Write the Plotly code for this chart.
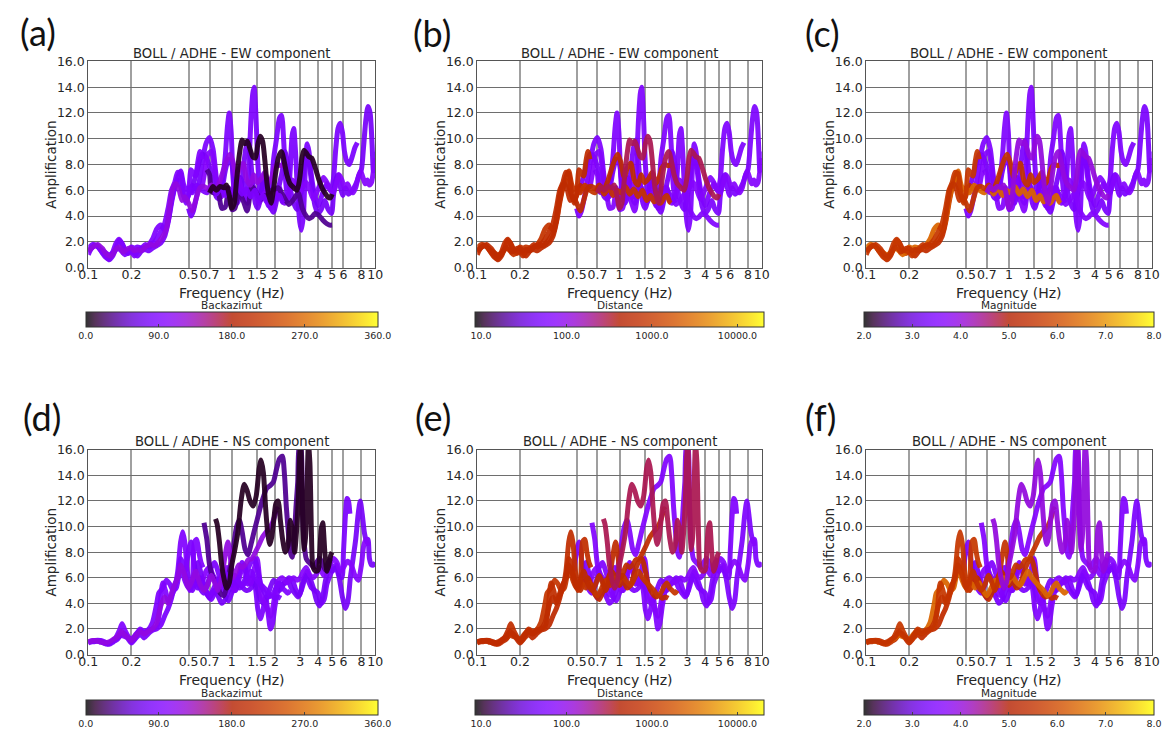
import math
import plotly.graph_objects as go

# ---------------- data ----------------
X_TICKS = [0.1, 0.2, 0.5, 0.7, 1, 1.5, 2, 3, 4, 5, 6, 8, 10]
X_TICK_LABELS = ['0.1', '0.2', '0.5', '0.7', '1', '1.5', '2', '3', '4', '5', '6', '8', '10']
Y_TICKS = [0, 2, 4, 6, 8, 10, 12, 14, 16]
Y_TICK_LABELS = ['0.0', '2.0', '4.0', '6.0', '8.0', '10.0', '12.0', '14.0', '16.0']

BAZ_TICKS = [0, 90, 180, 270, 360]
BAZ_TICK_LABELS = ['0.0', '90.0', '180.0', '270.0', '360.0']
DIST_TICKS = [10, 100, 1000, 10000]
DIST_TICK_LABELS = ['10.0', '100.0', '1000.0', '10000.0']
MAG_TICKS = [2, 3, 4, 5, 6, 7, 8]
MAG_TICK_LABELS = ['2.0', '3.0', '4.0', '5.0', '6.0', '7.0', '8.0']

# events (drawing order)
event_names = ['H1', 'H2', 'H3', 'H5', 'L4', 'L3', 'L1', 'L2', 'H4']
event_backazimuth = [85, 78, 98, 35, 85, 88, 92, 118, 8]
event_distance = [60, 55, 70, 65, 600, 850, 700, 650, 280]
event_magnitude = [3.5, 3.4, 3.6, 3.6, 5.4, 6.4, 5.6, 5.5, 4.0]

# ---- EW component ----
ew_L1_freq = [0.100, 0.104, 0.110, 0.117, 0.124, 0.132, 0.140, 0.148, 0.156, 0.164, 0.172, 0.180, 0.190, 0.200, 0.210, 0.222, 0.235, 0.250, 0.265, 0.280, 0.300, 0.320, 0.340, 0.360, 0.380, 0.400, 0.420, 0.440, 0.460, 0.480, 0.500, 0.520, 0.540, 0.560, 0.580, 0.600, 0.620]
ew_L1_amp = [1.0, 1.4, 1.7, 1.6, 1.2, 0.8, 0.7, 1.2, 1.9, 2.2, 1.8, 1.4, 1.3, 1.2, 0.9, 1.3, 1.5, 1.8, 1.6, 1.8, 2.2, 2.8, 3.4, 4.6, 6.0, 6.6, 7.4, 7.3, 5.8, 5.0, 5.8, 7.6, 7.3, 7.1, 8.2, 9.0, 8.4]

ew_L2_freq = [0.100, 0.108, 0.116, 0.125, 0.135, 0.145, 0.155, 0.165, 0.175, 0.190, 0.200, 0.210, 0.220, 0.235, 0.250, 0.270, 0.290, 0.310, 0.330, 0.350, 0.370, 0.390, 0.410, 0.430, 0.450, 0.470, 0.500, 0.530, 0.560, 0.600, 0.640, 0.680, 0.720, 0.770, 0.820, 0.870, 0.920, 0.970, 1.02, 1.08, 1.14, 1.20, 1.27, 1.35, 1.42, 1.50, 1.60, 1.70, 1.80, 1.90, 2.00, 2.10, 2.20, 2.30]
ew_L2_amp = [1.3, 1.6, 1.8, 1.5, 1.0, 0.9, 1.4, 1.6, 1.2, 1.5, 1.5, 1.3, 1.4, 1.3, 1.6, 1.8, 1.7, 2.0, 2.4, 3.0, 4.8, 6.2, 6.5, 6.0, 5.2, 5.5, 5.0, 4.4, 5.2, 6.2, 6.3, 6.1, 6.4, 6.0, 6.6, 7.5, 8.3, 8.8, 8.2, 7.0, 7.8, 8.1, 6.8, 6.4, 7.2, 6.6, 6.9, 7.4, 6.5, 7.0, 7.8, 8.0, 7.9, 8.0]

ew_L3_freq = [0.100, 0.107, 0.114, 0.122, 0.130, 0.140, 0.150, 0.160, 0.170, 0.180, 0.190, 0.200, 0.210, 0.220, 0.240, 0.260, 0.280, 0.300, 0.320, 0.340, 0.360, 0.380, 0.400, 0.420, 0.440, 0.460, 0.480, 0.500, 0.530, 0.570, 0.620, 0.670, 0.720, 0.780, 0.840, 0.900, 0.960, 1.02, 1.10, 1.18, 1.26, 1.35, 1.45, 1.55, 1.65, 1.75, 1.85, 1.95, 2.05, 2.15, 2.25, 2.30]
ew_L3_amp = [1.5, 1.8, 1.7, 1.4, 1.2, 1.0, 1.2, 1.5, 1.3, 1.0, 1.2, 1.6, 1.5, 1.6, 1.5, 1.7, 2.2, 3.0, 3.3, 2.9, 3.6, 5.2, 6.2, 7.0, 7.5, 6.5, 6.0, 6.2, 5.8, 6.4, 6.0, 5.8, 6.3, 5.7, 6.2, 5.6, 6.0, 5.8, 6.3, 5.7, 6.1, 5.5, 6.0, 5.2, 5.6, 5.1, 5.5, 5.0, 5.4, 5.6, 5.1, 5.0]

ew_L4_freq = [0.100, 0.107, 0.115, 0.123, 0.132, 0.140, 0.148, 0.156, 0.164, 0.172, 0.180, 0.190, 0.200, 0.210, 0.220, 0.235, 0.250, 0.265, 0.280, 0.300, 0.320, 0.340, 0.360, 0.380, 0.400, 0.420, 0.440, 0.460, 0.480, 0.500, 0.530, 0.560]
ew_L4_amp = [1.2, 1.6, 1.7, 1.3, 0.9, 0.6, 0.9, 1.5, 2.1, 1.9, 1.4, 1.1, 1.3, 1.1, 0.9, 1.3, 1.4, 1.3, 1.5, 1.7, 1.9, 2.4, 3.5, 5.0, 6.2, 6.8, 6.3, 5.6, 5.2, 5.6, 6.4, 6.0]

ew_H1_freq = [0.50, 0.52, 0.54, 0.57, 0.60, 0.63, 0.66, 0.70, 0.74, 0.78, 0.82, 0.86, 0.90, 0.93, 0.96, 0.99, 1.02, 1.06, 1.10, 1.15, 1.20, 1.26, 1.31, 1.36, 1.40, 1.43, 1.47, 1.52, 1.58, 1.65, 1.72, 1.80, 1.88, 1.96, 2.05, 2.15, 2.22, 2.30, 2.38, 2.46, 2.55, 2.63, 2.70, 2.78, 2.88, 2.98, 3.05, 3.15, 3.25, 3.35, 3.45, 3.60, 3.80, 4.00, 4.30, 4.60, 4.90, 5.10, 5.30, 5.50, 5.70, 5.90, 6.10, 6.35, 6.60, 6.90, 7.20, 7.50]
ew_H1_amp = [4.6, 4.0, 4.4, 5.6, 7.0, 8.5, 9.6, 10.1, 9.2, 7.0, 5.8, 6.8, 8.6, 10.8, 12.0, 10.5, 7.0, 5.2, 5.8, 7.0, 6.5, 5.5, 7.5, 11.5, 13.5, 14.0, 12.0, 8.0, 5.8, 6.8, 5.6, 4.8, 6.0, 8.5, 10.0, 11.6, 11.8, 9.8, 6.5, 5.2, 7.5, 10.2, 10.8, 9.0, 5.5, 3.5, 2.9, 4.0, 7.5, 9.6, 9.0, 7.0, 5.5, 4.8, 5.8, 6.5, 6.0, 6.8, 9.2, 10.8, 11.2, 10.5, 9.0, 8.2, 8.0, 8.6, 9.3, 9.7]

ew_H2_freq = [0.52, 0.55, 0.58, 0.62, 0.66, 0.70, 0.74, 0.78, 0.82, 0.86, 0.90, 0.95, 1.00, 1.05, 1.10, 1.15, 1.20, 1.25, 1.30, 1.35, 1.40, 1.46, 1.52, 1.60, 1.68, 1.76, 1.85, 1.95, 2.05, 2.15, 2.25, 2.35, 2.45, 2.55, 2.70, 2.85, 3.00, 3.15, 3.30, 3.45, 3.60, 3.80, 4.00, 4.20, 4.45, 4.70, 4.95, 5.10, 5.30, 5.50, 5.70, 5.95, 6.20, 6.50, 6.80, 7.10, 7.40, 7.70, 8.00, 8.30, 8.60, 8.90, 9.20, 9.50, 9.70, 9.85, 10.0]
ew_H2_amp = [5.8, 6.8, 7.8, 8.8, 8.6, 7.8, 6.5, 5.5, 5.3, 6.2, 7.5, 8.4, 8.0, 6.2, 5.0, 5.8, 7.5, 9.2, 9.9, 8.5, 6.5, 5.0, 4.6, 5.8, 7.2, 6.2, 4.8, 4.3, 5.2, 6.5, 7.5, 9.0, 8.0, 6.2, 5.0, 4.5, 5.5, 7.2, 8.8, 8.2, 6.5, 4.8, 4.2, 4.5, 5.2, 4.5, 4.2, 5.5, 6.8, 7.2, 6.3, 5.6, 6.2, 5.7, 5.9, 6.2, 6.6, 7.2, 7.6, 9.5, 11.5, 12.5, 12.0, 9.5, 7.5, 7.8, 9.0]

ew_H3_freq = [0.62, 0.65, 0.68, 0.72, 0.76, 0.80, 0.85, 0.90, 0.95, 1.00, 1.05, 1.10, 1.16, 1.22, 1.28, 1.34, 1.40, 1.47, 1.55, 1.62, 1.70, 1.78, 1.86, 1.95, 2.05, 2.15, 2.25, 2.35, 2.50, 2.65, 2.80, 2.95, 3.10, 3.30, 3.50, 3.70, 3.90, 4.10, 4.35, 4.60, 4.85, 5.10, 5.35, 5.60, 5.85, 6.10, 6.40, 6.70, 7.00, 7.30, 7.60, 7.90, 8.20, 8.50, 8.80, 9.10, 9.40, 9.70, 10.0]
ew_H3_amp = [6.2, 7.5, 8.8, 9.0, 7.5, 6.0, 5.5, 6.2, 5.6, 5.4, 6.5, 7.0, 6.2, 5.5, 5.0, 5.8, 6.4, 5.8, 5.0, 5.4, 5.8, 5.3, 4.6, 4.8, 5.8, 6.2, 5.2, 5.0, 5.8, 6.8, 6.2, 5.8, 6.2, 6.6, 6.0, 5.3, 5.8, 6.4, 7.0, 6.6, 6.0, 5.8, 6.5, 7.2, 6.8, 6.2, 6.5, 6.0, 5.8, 6.2, 7.0, 7.5, 7.0, 6.5, 6.8, 6.4, 6.6, 7.5, 8.5]

ew_H4_freq = [0.70, 0.74, 0.78, 0.83, 0.88, 0.92, 0.96, 1.00, 1.04, 1.08, 1.13, 1.18, 1.23, 1.28, 1.34, 1.40, 1.46, 1.52, 1.58, 1.64, 1.70, 1.76, 1.82, 1.88, 1.95, 2.03, 2.12, 2.22, 2.32, 2.42, 2.55, 2.70, 2.85, 2.98, 3.08, 3.18, 3.30, 3.45, 3.60, 3.75, 3.90, 4.05, 4.25, 4.45, 4.65, 4.85, 5.00]
ew_H4_amp = [5.8, 6.3, 6.0, 6.3, 6.2, 6.4, 5.6, 4.6, 5.0, 6.8, 8.8, 9.9, 9.6, 9.8, 9.2, 8.6, 8.5, 9.6, 10.2, 9.8, 8.3, 6.5, 5.5, 5.0, 6.0, 7.5, 8.6, 9.0, 8.2, 7.2, 6.5, 6.2, 6.0, 7.0, 8.5, 9.1, 8.9, 8.6, 8.5, 8.0, 7.4, 6.8, 6.2, 5.8, 5.5, 5.4, 5.7]

ew_H5_freq = [0.67, 0.70, 0.72, 0.76, 0.80, 0.85, 0.90, 0.95, 1.00, 1.05, 1.12, 1.20, 1.28, 1.38, 1.50, 1.60, 1.70, 1.80, 1.90, 2.00, 2.10, 2.30, 2.50, 2.70, 2.90, 3.10, 3.30, 3.45, 3.60, 3.80, 4.00, 4.30, 4.60, 4.80, 5.00]
ew_H5_amp = [7.6, 7.2, 5.9, 5.8, 6.0, 4.6, 4.7, 6.2, 4.5, 4.6, 5.8, 5.2, 4.4, 6.3, 5.7, 5.3, 5.6, 5.2, 6.0, 6.1, 6.2, 5.5, 4.9, 5.3, 5.8, 4.6, 4.0, 3.8, 3.9, 4.2, 4.1, 3.7, 3.4, 3.3, 3.3]

# ---- NS component ----
ns_L1_freq = [0.100, 0.105, 0.112, 0.120, 0.128, 0.136, 0.145, 0.155, 0.165, 0.172, 0.180, 0.190, 0.200, 0.210, 0.220, 0.230, 0.245, 0.260, 0.280, 0.300, 0.315, 0.330, 0.345, 0.360, 0.380, 0.400, 0.420, 0.440, 0.455, 0.470, 0.490, 0.510, 0.530, 0.550, 0.570, 0.590, 0.610, 0.630]
ns_L1_amp = [0.9, 1.0, 1.1, 1.1, 0.9, 0.8, 1.0, 1.3, 1.9, 2.4, 1.9, 1.4, 1.0, 1.2, 1.7, 2.0, 1.8, 1.9, 2.0, 2.2, 3.5, 5.6, 5.0, 4.2, 4.6, 5.2, 6.5, 8.8, 9.6, 8.8, 6.5, 5.0, 5.5, 8.8, 9.0, 8.0, 7.2, 6.8]

ns_L2_freq = [0.100, 0.110, 0.120, 0.130, 0.140, 0.150, 0.160, 0.170, 0.180, 0.190, 0.200, 0.215, 0.230, 0.245, 0.260, 0.280, 0.300, 0.320, 0.340, 0.360, 0.380, 0.400, 0.420, 0.440, 0.460, 0.480, 0.500, 0.530, 0.560, 0.600, 0.640, 0.680, 0.720, 0.760, 0.800, 0.850, 0.900, 0.940, 0.980, 1.02, 1.07, 1.12, 1.18, 1.24, 1.30, 1.38, 1.46, 1.55, 1.64, 1.74, 1.84, 1.92, 2.00, 2.06, 2.10]
ns_L2_amp = [1.0, 1.1, 1.0, 0.9, 1.0, 1.2, 1.4, 1.8, 1.5, 1.3, 1.1, 1.5, 1.8, 1.6, 1.8, 2.0, 2.5, 3.8, 4.5, 4.0, 4.8, 5.5, 6.0, 7.0, 6.5, 5.8, 5.2, 5.8, 6.5, 5.5, 5.0, 5.5, 6.2, 5.6, 5.0, 6.0, 7.8, 8.8, 7.5, 6.0, 6.5, 7.0, 6.8, 7.0, 7.4, 7.5, 8.0, 8.6, 9.2, 9.6, 9.9, 10.3, 10.9, 11.4, 11.3]

ns_L3_freq = [0.100, 0.110, 0.120, 0.130, 0.140, 0.150, 0.160, 0.170, 0.180, 0.190, 0.200, 0.215, 0.230, 0.245, 0.260, 0.280, 0.300, 0.310, 0.330, 0.350, 0.370, 0.390, 0.410, 0.430, 0.450, 0.470, 0.500, 0.540, 0.580, 0.620, 0.660, 0.700, 0.750, 0.800, 0.860, 0.920, 0.980, 1.05, 1.12, 1.20, 1.28, 1.36, 1.45, 1.55, 1.65, 1.75, 1.85, 1.95, 2.05, 2.15, 2.25, 2.35, 2.45, 2.55]
ns_L3_amp = [1.0, 1.1, 1.0, 0.9, 0.9, 1.1, 1.3, 1.5, 1.4, 1.3, 1.2, 1.6, 1.9, 1.7, 1.9, 2.5, 4.0, 4.8, 5.2, 5.8, 5.5, 5.0, 5.2, 6.2, 6.5, 5.8, 5.2, 5.6, 5.2, 5.6, 5.0, 4.6, 5.2, 5.8, 5.4, 6.0, 5.6, 6.2, 5.7, 5.4, 6.0, 6.5, 6.0, 5.6, 5.3, 5.0, 4.6, 4.8, 5.3, 5.6, 5.2, 5.0, 4.8, 5.0]

ns_L4_freq = [0.100, 0.110, 0.120, 0.130, 0.140, 0.150, 0.160, 0.170, 0.180, 0.190, 0.200, 0.215, 0.230, 0.245, 0.260, 0.280, 0.300, 0.320, 0.340, 0.360, 0.380, 0.400, 0.420, 0.440, 0.460, 0.480, 0.500, 0.530, 0.560, 0.600, 0.640, 0.680, 0.720, 0.770, 0.820, 0.880, 0.940, 1.00, 1.06, 1.13, 1.20, 1.28, 1.36, 1.44, 1.52, 1.60, 1.70, 1.80, 1.90, 2.00, 2.10, 2.20]
ns_L4_amp = [1.0, 1.0, 1.1, 1.0, 0.8, 1.0, 1.2, 1.6, 1.6, 1.2, 0.9, 1.3, 1.6, 1.3, 1.6, 1.9, 2.0, 2.3, 3.0, 3.6, 4.4, 5.4, 6.0, 7.5, 7.0, 6.0, 5.4, 5.0, 5.6, 6.0, 5.2, 4.6, 4.3, 5.0, 5.8, 6.5, 6.0, 5.4, 5.8, 5.2, 5.5, 6.5, 7.2, 7.5, 6.5, 5.4, 4.8, 4.5, 4.6, 4.4, 4.5, 4.4]

ns_H1_freq = [0.48, 0.50, 0.52, 0.54, 0.57, 0.60, 0.64, 0.68, 0.72, 0.76, 0.80, 0.85, 0.90, 0.95, 1.00, 1.06, 1.12, 1.18, 1.24, 1.30, 1.38, 1.46, 1.52, 1.58, 1.65, 1.72, 1.80, 1.86, 1.92, 2.00, 2.10, 2.20, 2.35, 2.50, 2.65, 2.80, 2.95, 3.10, 3.25, 3.40, 3.60, 3.80, 4.00, 4.20, 4.40, 4.60, 4.85, 5.10, 5.35, 5.60, 5.85, 6.00, 6.20, 6.35, 6.50, 6.65]
ns_H1_amp = [6.5, 8.2, 8.8, 7.5, 6.0, 5.2, 4.8, 5.5, 6.8, 7.2, 6.5, 5.5, 4.6, 4.2, 4.8, 5.5, 6.2, 7.2, 6.5, 5.5, 6.0, 5.2, 3.5, 2.8, 3.5, 4.5, 3.0, 2.0, 2.4, 3.8, 5.0, 5.5, 5.6, 6.0, 5.8, 5.0, 4.6, 5.5, 6.2, 5.8, 5.2, 5.0, 4.8, 4.0, 4.3, 5.5, 6.2, 6.8, 7.0, 6.2, 6.0, 8.0, 11.0, 12.2, 12.0, 11.0]

ns_H2_freq = [0.55, 0.58, 0.62, 0.66, 0.70, 0.75, 0.80, 0.85, 0.90, 0.95, 1.00, 1.06, 1.12, 1.20, 1.28, 1.36, 1.44, 1.52, 1.60, 1.68, 1.76, 1.85, 1.95, 2.05, 2.15, 2.30, 2.45, 2.60, 2.75, 2.90, 3.05, 3.20, 3.35, 3.50, 3.70, 3.90, 4.10, 4.30, 4.50, 4.75, 5.00, 5.30, 5.60, 5.90, 6.20, 6.45, 6.70, 7.00, 7.30, 7.60, 7.85, 8.10, 8.40, 8.70, 8.90, 9.10, 9.40, 9.70, 10.0]
ns_H2_amp = [6.0, 7.2, 6.0, 5.0, 4.4, 5.0, 4.6, 4.0, 4.3, 5.0, 5.2, 5.0, 5.6, 5.2, 5.0, 5.2, 5.8, 5.0, 4.2, 4.0, 4.5, 5.2, 5.8, 5.6, 5.0, 5.5, 5.8, 5.2, 4.8, 4.5, 5.0, 5.8, 6.5, 6.0, 5.2, 4.2, 3.8, 4.5, 5.8, 6.8, 6.5, 6.8, 6.0, 4.5, 3.6, 4.2, 6.0, 7.5, 9.0, 11.0, 12.0, 11.0, 9.5, 8.8, 9.0, 7.5, 7.0, 7.0, 7.2]

ns_H3_freq = [0.62, 0.66, 0.70, 0.74, 0.78, 0.83, 0.88, 0.93, 0.98, 1.04, 1.10, 1.16, 1.22, 1.28, 1.35, 1.42, 1.50, 1.56, 1.62, 1.70, 1.78, 1.86, 1.94, 2.02, 2.12, 2.25, 2.40, 2.55, 2.70, 2.85, 3.00, 3.15, 3.30, 3.50, 3.70, 3.90, 4.10, 4.35, 4.60, 4.85, 5.10, 5.40, 5.70, 6.00, 6.40, 6.80, 7.20, 7.60, 8.00, 8.30, 8.60, 8.90]
ns_H3_amp = [5.5, 6.5, 6.8, 6.2, 5.8, 5.2, 5.8, 6.8, 6.2, 5.0, 5.5, 6.5, 7.0, 6.2, 5.5, 6.5, 7.5, 6.0, 4.5, 4.0, 3.5, 3.0, 3.8, 5.0, 5.8, 6.0, 5.6, 5.8, 6.0, 5.8, 6.0, 6.5, 6.8, 6.2, 6.0, 6.3, 6.8, 6.2, 6.5, 7.0, 7.5, 7.2, 6.5, 6.8, 7.3, 7.0, 6.2, 5.8, 7.0, 8.5, 9.0, 8.5]

ns_H4_freq = [0.77, 0.79, 0.82, 0.85, 0.88, 0.92, 0.96, 1.00, 1.05, 1.10, 1.16, 1.22, 1.28, 1.34, 1.41, 1.48, 1.55, 1.60, 1.66, 1.72, 1.78, 1.84, 1.90, 1.96, 2.03, 2.10, 2.18, 2.26, 2.36, 2.46, 2.56, 2.66, 2.74, 2.82, 2.90, 2.97, 3.02, 3.08, 3.14, 3.20, 3.28, 3.36, 3.42, 3.50, 3.58, 3.66, 3.76, 3.88, 4.00, 4.10, 4.20, 4.30, 4.45, 4.60, 4.75, 4.90, 5.00]
ns_H4_amp = [10.6, 10.2, 8.8, 7.0, 6.0, 5.2, 5.6, 7.0, 8.2, 9.5, 12.0, 13.3, 12.8, 12.0, 11.6, 12.4, 14.5, 15.2, 14.2, 11.5, 9.5, 8.6, 9.2, 10.5, 11.8, 12.0, 10.5, 9.0, 8.0, 8.5, 10.5, 9.6, 8.0, 9.5, 12.0, 15.5, 16.5, 13.0, 9.5, 8.2, 9.5, 14.0, 16.5, 15.0, 10.0, 7.0, 6.6, 6.5, 6.6, 8.0, 9.8, 10.3, 8.0, 6.5, 7.0, 7.8, 8.0]

ns_H5_freq = [0.64, 0.67, 0.70, 0.74, 0.78, 0.83, 0.88, 0.93, 0.98, 1.03, 1.08, 1.13, 1.18, 1.24, 1.30, 1.36, 1.43, 1.50, 1.58, 1.66, 1.75, 1.85, 1.95, 2.05, 2.15, 2.25, 2.33, 2.40, 2.48, 2.56, 2.64, 2.72, 2.80, 2.88, 2.96, 3.02, 3.10, 3.18, 3.30, 3.45, 3.60, 3.75, 3.90, 4.10, 4.30, 4.50, 4.70, 4.90]
ns_H5_amp = [10.3, 9.0, 7.0, 6.0, 5.6, 4.8, 4.6, 5.5, 7.0, 8.5, 10.0, 10.5, 9.6, 8.2, 7.8, 8.6, 9.6, 10.5, 11.5, 12.3, 13.0, 13.2, 13.5, 14.5, 15.3, 15.5, 14.0, 11.5, 9.5, 8.0, 7.6, 9.0, 11.5, 13.5, 16.5, 16.5, 12.0, 9.0, 7.5, 7.2, 7.0, 6.8, 7.2, 7.5, 7.0, 6.6, 7.2, 7.5]

EW_CURVES = {
    'H1': (ew_H1_freq, ew_H1_amp), 'H2': (ew_H2_freq, ew_H2_amp), 'H3': (ew_H3_freq, ew_H3_amp),
    'H4': (ew_H4_freq, ew_H4_amp), 'H5': (ew_H5_freq, ew_H5_amp),
    'L1': (ew_L1_freq, ew_L1_amp), 'L2': (ew_L2_freq, ew_L2_amp), 'L3': (ew_L3_freq, ew_L3_amp),
    'L4': (ew_L4_freq, ew_L4_amp),
}
NS_CURVES = {
    'H1': (ns_H1_freq, ns_H1_amp), 'H2': (ns_H2_freq, ns_H2_amp), 'H3': (ns_H3_freq, ns_H3_amp),
    'H4': (ns_H4_freq, ns_H4_amp), 'H5': (ns_H5_freq, ns_H5_amp),
    'L1': (ns_L1_freq, ns_L1_amp), 'L2': (ns_L2_freq, ns_L2_amp), 'L3': (ns_L3_freq, ns_L3_amp),
    'L4': (ns_L4_freq, ns_L4_amp),
}

# ---------------- styling / layout ----------------
W, H = 1174, 736
FONT = 'DejaVu Sans'
TEXT_COL = '#262626'


def gnuplot(t):
    t = min(max(t, 0.0), 1.0)
    return (math.sqrt(t), t ** 3, max(0.0, math.sin(2 * math.pi * t)))


def rgb(c, alpha=1.0):
    r, g, b = [int(round(255 * (alpha * v + (1 - alpha)))) for v in c]
    return f'rgb({r},{g},{b})'


CBAR_SCALE = [[i / 32, rgb(gnuplot(i / 32), 0.8)] for i in range(33)]

# attribute configs: (values, transform, cmin, cmax, tickvals, ticktext, title)
ATTRS = {
    'baz': ([float(v) for v in event_backazimuth], lambda v: v, 0.0, 360.0,
            BAZ_TICKS, BAZ_TICK_LABELS, 'Backazimut'),
    'dist': ([float(v) for v in event_distance], math.log10, 0.93, 4.31,
             [math.log10(v) for v in DIST_TICKS], DIST_TICK_LABELS, 'Distance'),
    'mag': ([float(v) for v in event_magnitude], lambda v: v, 2.0, 8.0,
            MAG_TICKS, MAG_TICK_LABELS, 'Magnitude'),
}

COLS = [(79.5, 371.0), (474.5, 763.5), (869.5, 1159.5)]
ROWS = [(54.5, 265.0), (451.0, 660.0)]
CBAR_TOP = [310.0, 706.0]
LETTER_POS = [[(8, 25), (407, 26), (805, 26)], [(11, 417), (409, 417), (805, 417)]]

panels = [
    ('(a)', 'EW', 'baz', 0, 0), ('(b)', 'EW', 'dist', 0, 1), ('(c)', 'EW', 'mag', 0, 2),
    ('(d)', 'NS', 'baz', 1, 0), ('(e)', 'NS', 'dist', 1, 1), ('(f)', 'NS', 'mag', 1, 2),
]


def px(x):
    return x / W


def py(y):
    return 1 - y / H


fig = go.Figure()
annotations = []
layout = dict(
    width=W, height=H, margin=dict(l=0, r=0, t=0, b=0),
    paper_bgcolor='white', plot_bgcolor='white', showlegend=False,
    font=dict(family=FONT, color=TEXT_COL, size=12),
)

for k, (letter, comp, attr, r, c) in enumerate(panels, start=1):
    suffix = '' if k == 1 else str(k)
    x0, x1 = COLS[c]
    y0, y1 = ROWS[r]
    values, tf, cmin, cmax, tvals, ttext, ctitle = ATTRS[attr]
    curves = EW_CURVES if comp == 'EW' else NS_CURVES
    cax = 'coloraxis' + suffix

    for name, val in zip(event_names, values):
        fx, fy = curves[name]
        tv = tf(val)
        col = rgb(gnuplot((tv - cmin) / (cmax - cmin)))
        fig.add_trace(go.Scatter(
            x=fx, y=fy, mode='lines+markers',
            line=dict(color=col, width=5, shape='spline', smoothing=0.7),
            marker=dict(size=2, opacity=0, color=[tv] * len(fx), coloraxis=cax),
            opacity=0.93, xaxis='x' + suffix, yaxis='y' + suffix,
            hoverinfo='skip', showlegend=False,
        ))

    layout['xaxis' + suffix] = dict(
        domain=[px(x0), px(x1)], anchor='y' + suffix, type='log', range=[-1, 1],
        tickmode='array', tickvals=X_TICKS, ticktext=X_TICK_LABELS, tickangle=0,
        ticklabelstandoff=-5,
        showgrid=True, gridcolor='#a0a0a0', gridwidth=1.5,
        showline=True, mirror=True, linecolor='#555555', linewidth=1,
        ticks='', tickfont=dict(family=FONT, size=12.5, color=TEXT_COL), zeroline=False,
    )
    layout['yaxis' + suffix] = dict(
        domain=[py(y1), py(y0)], anchor='x' + suffix, range=[0, 16],
        tickmode='array', tickvals=Y_TICKS, ticktext=Y_TICK_LABELS,
        showgrid=True, gridcolor='#6e6e6e', gridwidth=1.1,
        showline=True, mirror=True, linecolor='#555555', linewidth=1,
        ticks='', tickfont=dict(family=FONT, size=12.5, color=TEXT_COL), zeroline=False,
    )
    layout[cax] = dict(
        colorscale=CBAR_SCALE, cmin=cmin, cmax=cmax,
        colorbar=dict(
            orientation='h', x=px((x0 + x1) / 2), xanchor='center', xpad=0,
            y=py(CBAR_TOP[r]), yanchor='top', ypad=0,
            len=x1 - x0, lenmode='pixels', thickness=15,
            outlinewidth=1, outlinecolor='#333333',
            tickmode='array', tickvals=tvals, ticktext=ttext,
            ticks='inside', ticklen=3, tickcolor='#444444',
            tickfont=dict(family=FONT, size=9.5, color=TEXT_COL),
        ),
    )

    cx = px((x0 + x1) / 2)
    annotations += [
        dict(text=f'BOLL / ADHE - {comp} component', x=cx, y=py(y0 - 8),
             xref='paper', yref='paper', showarrow=False, xanchor='center', yanchor='middle',
             font=dict(family=FONT, size=13.2, color=TEXT_COL)),
        dict(text='Frequency (Hz)', x=cx, y=py(y1 + 26), xref='paper', yref='paper',
             showarrow=False, xanchor='center', yanchor='middle',
             font=dict(family=FONT, size=14, color=TEXT_COL)),
        dict(text='Amplification', x=px(x0 - 37.5), y=py((y0 + y1) / 2), xref='paper', yref='paper',
             showarrow=False, xanchor='center', yanchor='middle', textangle=-90,
             font=dict(family=FONT, size=13.5, color=TEXT_COL)),
        dict(text=ctitle, x=cx, y=py(CBAR_TOP[r] - 7), xref='paper', yref='paper',
             showarrow=False, xanchor='center', yanchor='middle',
             font=dict(family=FONT, size=10.5, color=TEXT_COL)),
        dict(text=letter, x=px(LETTER_POS[r][c][0]), y=py(LETTER_POS[r][c][1]), xref='paper', yref='paper',
             showarrow=False, xanchor='left', yanchor='middle',
             font=dict(family='Lato', size=36, color='#111111')),
    ]

layout['annotations'] = annotations
fig.update_layout(**layout)
fig.write_html('out.html')
